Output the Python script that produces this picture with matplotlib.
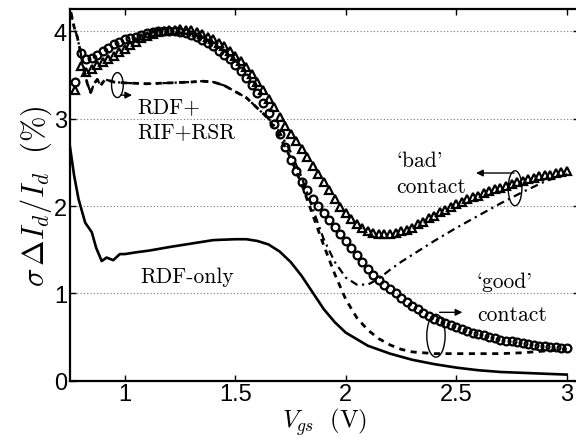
import numpy as np
import matplotlib
matplotlib.use("Agg")
import matplotlib.pyplot as plt
from matplotlib.patches import Ellipse

plt.rcParams['mathtext.fontset'] = 'cm'

# RDF-only (solid)
x_rdf = [0.75, 0.77, 0.79, 0.82, 0.85, 0.87, 0.895, 0.917, 0.947, 0.977, 1.0, 1.05,
         1.11, 1.2, 1.3, 1.4, 1.5, 1.55, 1.6, 1.65, 1.7, 1.75, 1.8, 1.85, 1.9, 1.95,
         2.0, 2.1, 2.2, 2.3, 2.4, 2.5, 2.6, 2.7, 2.8, 2.9, 3.0]
y_rdf = [2.70, 2.35, 2.08, 1.81, 1.70, 1.52, 1.37, 1.41, 1.38, 1.45, 1.45, 1.47,
         1.49, 1.53, 1.57, 1.61, 1.62, 1.62, 1.60, 1.56, 1.48, 1.36, 1.20, 1.01, 0.82, 0.67,
         0.55, 0.40, 0.31, 0.24, 0.19, 0.15, 0.12, 0.10, 0.09, 0.08, 0.07]

# RDF+RIF+RSR, common part at low Vgs
x_full = [0.755, 0.77, 0.785, 0.80, 0.815, 0.83, 0.845, 0.86, 0.875, 0.89, 0.91, 0.95,
          1.0, 1.1, 1.2, 1.3, 1.35, 1.4, 1.45, 1.5, 1.55, 1.6, 1.65]
y_full = [4.22, 4.05, 3.93, 3.75, 3.55, 3.40, 3.30, 3.40, 3.45, 3.38, 3.45, 3.42,
          3.41, 3.40, 3.41, 3.42, 3.43, 3.42, 3.38, 3.31, 3.24, 3.12, 3.0]

# 'good' contact (dashed)
x_good = [1.7, 1.75, 1.8, 1.85, 1.9, 1.95, 2.0, 2.05, 2.1, 2.15, 2.2, 2.25, 2.3,
          2.4, 2.5, 2.6, 2.7, 2.8, 2.9, 3.0]
y_good = [2.80, 2.55, 2.25, 1.90, 1.55, 1.22, 0.93, 0.72, 0.58, 0.48, 0.41, 0.36, 0.33,
          0.31, 0.31, 0.31, 0.31, 0.32, 0.34, 0.36]

# 'bad' contact (dash-dot)
x_bad = [1.7, 1.75, 1.8, 1.85, 1.9, 1.95, 2.0, 2.05, 2.1, 2.15, 2.2, 2.25, 2.3,
         2.4, 2.5, 2.6, 2.7, 2.8, 2.9, 3.0]
y_bad = [2.85, 2.62, 2.33, 1.97, 1.62, 1.36, 1.18, 1.10, 1.10, 1.17, 1.27, 1.36, 1.44,
         1.60, 1.75, 1.89, 2.03, 2.16, 2.28, 2.37]

# marker series, Vg step 0.025 from 0.775 to 3.0
vg = np.linspace(0.775, 3.0, 90)
circ = [3.42, 3.75, 3.68, 3.70, 3.73, 3.77, 3.81, 3.85, 3.88, 3.91,
        3.92, 3.94, 3.96, 3.98, 3.99, 4.00, 4.00, 4.00, 4.00, 3.99,
        3.98, 3.96, 3.93, 3.90, 3.87, 3.83, 3.78, 3.73, 3.68, 3.62,
        3.55, 3.47, 3.39, 3.29, 3.18, 3.06, 2.94, 2.82, 2.68, 2.53,
        2.40, 2.28, 2.18, 2.08, 2.00, 1.92, 1.84, 1.76, 1.68, 1.60,
        1.52, 1.44, 1.36, 1.28, 1.21, 1.15, 1.10, 1.05, 1.00, 0.95,
        0.90, 0.86, 0.82, 0.78, 0.74, 0.71, 0.68, 0.66, 0.64, 0.61,
        0.59, 0.57, 0.55, 0.53, 0.52, 0.50, 0.49, 0.47, 0.46, 0.45,
        0.44, 0.43, 0.42, 0.41, 0.40, 0.40, 0.39, 0.39, 0.38, 0.38]
tri = [3.33, 3.60, 3.54, 3.57, 3.62, 3.65, 3.68, 3.72, 3.76, 3.80,
       3.84, 3.88, 3.92, 3.95, 3.97, 3.99, 4.00, 4.01, 4.02, 4.03,
       4.02, 4.01, 3.99, 3.97, 3.94, 3.91, 3.87, 3.83, 3.78, 3.72,
       3.66, 3.59, 3.51, 3.42, 3.33, 3.23, 3.13, 3.02, 2.92, 2.83,
       2.74, 2.65, 2.56, 2.46, 2.37, 2.27, 2.18, 2.08, 1.99, 1.92,
       1.85, 1.79, 1.75, 1.71, 1.69, 1.68, 1.68, 1.68, 1.69, 1.71,
       1.73, 1.75, 1.79, 1.82, 1.86, 1.89, 1.93, 1.96, 1.99, 2.02,
       2.05, 2.08, 2.10, 2.12, 2.15, 2.17, 2.19, 2.21, 2.23, 2.25,
       2.27, 2.29, 2.31, 2.32, 2.34, 2.35, 2.36, 2.38, 2.39, 2.40]

fig = plt.figure(figsize=(5.76, 4.39), dpi=100)
ax = fig.add_axes([0.121, 0.1305, 0.884, 0.8465])

ax.plot(x_rdf, y_rdf, color='k', lw=1.9)
ax.plot(x_full + x_good, y_full + y_good, color='k', lw=2.0, ls=(0, (2.2, 2.0)))
ax.plot(x_full + x_bad, y_full + y_bad, color='k', lw=1.6, ls=(0, (3.5, 2, 1, 2)))
ax.plot(vg, circ, 'o', ms=5.6, mfc='none', mec='k', mew=1.6)
ax.plot(vg, tri, '^', ms=6.2, mfc='none', mec='k', mew=1.6)

ax.set_xlim(0.75, 3.055)
ax.set_ylim(0, 4.255)
ax.set_xticks([1, 1.5, 2, 2.5, 3])
ax.set_xticklabels(['1', '1.5', '2', '2.5', '3'])
ax.set_yticks([0, 1, 2, 3, 4])
ax.yaxis.grid(True, ls=(0, (1, 2)), color='#777777', lw=0.8)
ax.tick_params(direction='in', top=True, right=True, length=4, width=1,
               labelsize=17, pad=2)
for lab in ax.get_xticklabels() + ax.get_yticklabels():
    lab.set_family('Liberation Sans')
for s in ax.spines.values():
    s.set_linewidth(1.6)

ax.set_xlabel(r'$V_{gs}\ \ (\mathrm{V})$', fontsize=18, labelpad=-0.5)
ax.set_ylabel(r'$\sigma\,\Delta I_d/I_d\ \ (\%)$', fontsize=22, labelpad=0)

tfont = dict(family='cmr10', fontsize=15.5, va='baseline')
ax.text(1.054, 3.073, 'RDF+', **tfont)
ax.text(1.054, 2.79, 'RIF+RSR', **tfont)
ax.text(1.068, 1.133, 'RDF-only', **tfont)
ax.text(2.230, 2.458, '`bad\'', **tfont)
ax.text(2.230, 2.16, 'contact', **tfont)
ax.text(2.593, 1.069, '`good\'', **tfont)
ax.text(2.593, 0.70, 'contact', **tfont)

for cx, cy, w, h in [(0.966, 3.385, 0.053, 0.286), (2.766, 2.204, 0.062, 0.40),
                     (2.408, 0.515, 0.083, 0.49)]:
    ax.add_patch(Ellipse((cx, cy), w, h, fill=False, ec='k', lw=1.0))

arrow = dict(arrowstyle='-|>', color='k', lw=1.0, mutation_scale=10)
ax.annotate('', xy=(1.045, 3.27), xytext=(0.968, 3.27), arrowprops=arrow)
ax.annotate('', xy=(2.577, 2.378), xytext=(2.774, 2.378), arrowprops=arrow)
ax.annotate('', xy=(2.54, 0.783), xytext=(2.412, 0.783), arrowprops=arrow)

fig.savefig('out.png', dpi=100)
